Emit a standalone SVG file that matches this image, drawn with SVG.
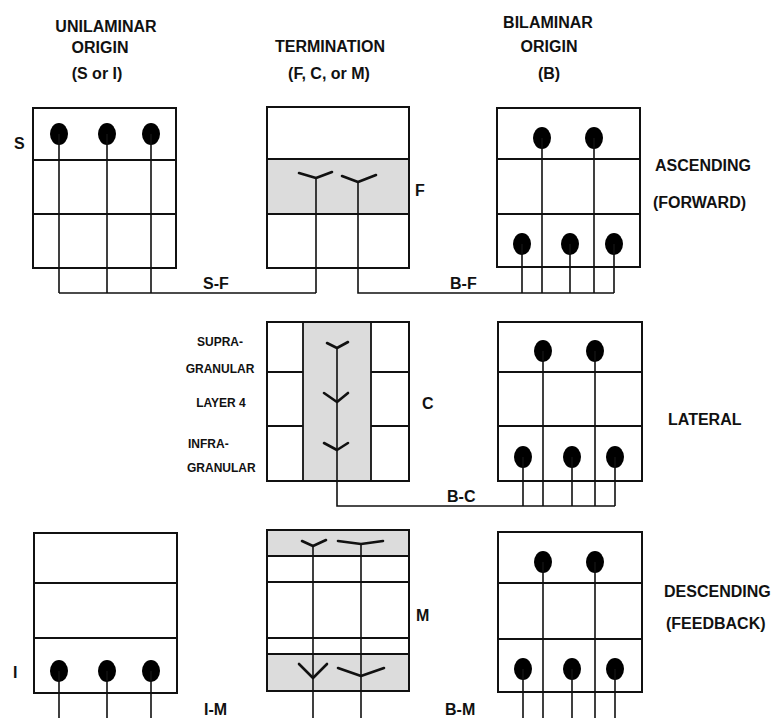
<svg xmlns="http://www.w3.org/2000/svg" width="778" height="718" viewBox="0 0 778 718">
<style>
  text { font-family: "Liberation Sans", Arial, sans-serif; font-weight: bold; fill: #111; }
  .h { font-size: 16px; text-anchor: middle; }
  .l { font-size: 16px; }
  .s { font-size: 12px; }
  .box { fill: none; stroke: #111; stroke-width: 2; }
  .grid { stroke: #111; stroke-width: 1.8; fill: none; }
  .shade { fill: #dcdcdc; stroke: none; }
  .ax { stroke: #111; stroke-width: 1.6; fill: none; }
  .y { stroke: #111; stroke-width: 2.6; fill: none; stroke-linecap: round; stroke-linejoin: round; }
  .dot { fill: #000; }
</style>
<rect width="778" height="718" fill="#fff"/>

<g id="headers">
  <text class="h" x="106" y="32">UNILAMINAR</text>
  <text class="h" x="100" y="53">ORIGIN</text>
  <text class="h" x="97" y="79">(S or I)</text>
  <text class="h" x="330" y="52">TERMINATION</text>
  <text class="h" x="329" y="79">(F, C, or M)</text>
  <text class="h" x="548" y="28">BILAMINAR</text>
  <text class="h" x="549" y="52">ORIGIN</text>
  <text class="h" x="549" y="79">(B)</text>
</g>

<g id="row-labels">
  <text class="l" x="14" y="149">S</text>
  <text class="l" x="415" y="196">F</text>
  <text class="l" x="422" y="409">C</text>
  <text class="l" x="416" y="621">M</text>
  <text class="l" x="13" y="678">I</text>
  <text class="l" x="655" y="171">ASCENDING</text>
  <text class="l" x="653" y="208">(FORWARD)</text>
  <text class="l" x="668" y="425">LATERAL</text>
  <text class="l" x="664" y="597">DESCENDING</text>
  <text class="l" x="666" y="629">(FEEDBACK)</text>
  <text class="s" x="220" y="346" text-anchor="middle">SUPRA-</text>
  <text class="s" x="220" y="373" text-anchor="middle">GRANULAR</text>
  <text class="s" x="221" y="407" text-anchor="middle">LAYER 4</text>
  <text class="s" x="188" y="448">INFRA-</text>
  <text class="s" x="187" y="472">GRANULAR</text>
</g>

<g id="box-S">
  <rect class="box" x="33" y="108" width="143" height="160"/>
  <path class="grid" d="M33,160 H176 M33,214 H176"/>
  <ellipse class="dot" cx="59" cy="134" rx="9" ry="11"/>
  <ellipse class="dot" cx="107" cy="134" rx="9" ry="11"/>
  <ellipse class="dot" cx="151" cy="134" rx="9" ry="11"/>
</g>

<g id="box-F">
  <rect class="shade" x="267" y="159" width="142" height="55"/>
  <rect class="box" x="267" y="107" width="142" height="161"/>
  <path class="grid" d="M267,159 H409 M267,214 H409"/>
  <polyline class="y" points="299,173 316,178 332,172"/>
  <polyline class="y" points="342,176 358,182 376,175"/>
</g>

<g id="box-B1">
  <rect class="box" x="497" y="108" width="143" height="159"/>
  <path class="grid" d="M497,159 H640 M497,214 H640"/>
  <ellipse class="dot" cx="542" cy="138" rx="9" ry="11"/>
  <ellipse class="dot" cx="594" cy="138" rx="9" ry="11"/>
  <ellipse class="dot" cx="522" cy="244" rx="9" ry="11"/>
  <ellipse class="dot" cx="570" cy="244" rx="9" ry="11"/>
  <ellipse class="dot" cx="614" cy="244" rx="9" ry="11"/>
</g>

<g id="box-C">
  <rect class="shade" x="303" y="322" width="68" height="159"/>
  <rect class="box" x="267" y="322" width="142" height="159"/>
  <path class="grid" d="M303,322 V481 M371,322 V481 M267,372 H303 M267,426 H303 M371,372 H409 M371,426 H409"/>
  <polyline class="y" points="327,343 337,348 348,342"/>
  <polyline class="y" points="324,393 337,402 348,393"/>
  <polyline class="y" points="324,443 337,450 348,443"/>
</g>

<g id="box-B2">
  <rect class="box" x="498" y="322" width="144" height="159"/>
  <path class="grid" d="M498,372 H642 M498,426 H642"/>
  <ellipse class="dot" cx="543" cy="351" rx="9" ry="11"/>
  <ellipse class="dot" cx="595" cy="351" rx="9" ry="11"/>
  <ellipse class="dot" cx="523" cy="457" rx="9" ry="11"/>
  <ellipse class="dot" cx="572" cy="457" rx="9" ry="11"/>
  <ellipse class="dot" cx="615" cy="457" rx="9" ry="11"/>
</g>

<g id="box-I">
  <rect class="box" x="34" y="533" width="143" height="160"/>
  <path class="grid" d="M34,583 H177 M34,638 H177"/>
  <ellipse class="dot" cx="59" cy="671" rx="9" ry="11"/>
  <ellipse class="dot" cx="107" cy="671" rx="9" ry="11"/>
  <ellipse class="dot" cx="151" cy="671" rx="9" ry="11"/>
</g>

<g id="box-M">
  <rect class="shade" x="267" y="530" width="142" height="26"/>
  <rect class="shade" x="267" y="654" width="142" height="37"/>
  <rect class="box" x="267" y="530" width="142" height="161"/>
  <path class="grid" d="M267,556 H409 M267,582 H409 M267,638 H409 M267,654 H409"/>
  <polyline class="y" points="302,541 313,546 326,540"/>
  <polyline class="y" points="338,541 361,544 383,541"/>
  <polyline class="y" points="299,664 313,678 327,664"/>
  <polyline class="y" points="338,668 361,676 384,668"/>
</g>

<g id="box-B3">
  <rect class="box" x="498" y="532" width="144" height="160"/>
  <path class="grid" d="M498,583 H642 M498,639 H642"/>
  <ellipse class="dot" cx="543" cy="562" rx="9" ry="11"/>
  <ellipse class="dot" cx="595" cy="562" rx="9" ry="11"/>
  <ellipse class="dot" cx="523" cy="669" rx="9" ry="11"/>
  <ellipse class="dot" cx="572" cy="669" rx="9" ry="11"/>
  <ellipse class="dot" cx="615" cy="669" rx="9" ry="11"/>
</g>

<g id="connectors">
  <path class="ax" d="M59,134 V293 M107,134 V293 M151,134 V293 M59,293 H316 M316,178 V293"/>
  <path class="ax" d="M358,182 V293 H614 M542,138 V293 M594,138 V293 M522,244 V293 M570,244 V293 M614,244 V293"/>
  <path class="ax" d="M337,347 V506 H615 M543,351 V506 M595,351 V506 M523,457 V506 M572,457 V506 M615,457 V506"/>
  <path class="ax" d="M59,671 V720 M107,671 V720 M151,671 V720 M313,546 V720 M361,544 V720 M543,562 V720 M595,562 V720 M523,669 V720 M572,669 V720 M615,669 V720"/>
  <text class="l" x="203" y="289">S-F</text>
  <text class="l" x="450" y="289">B-F</text>
  <text class="l" x="447" y="502">B-C</text>
  <text class="l" x="204" y="715">I-M</text>
  <text class="l" x="445" y="715">B-M</text>
</g>
</svg>
